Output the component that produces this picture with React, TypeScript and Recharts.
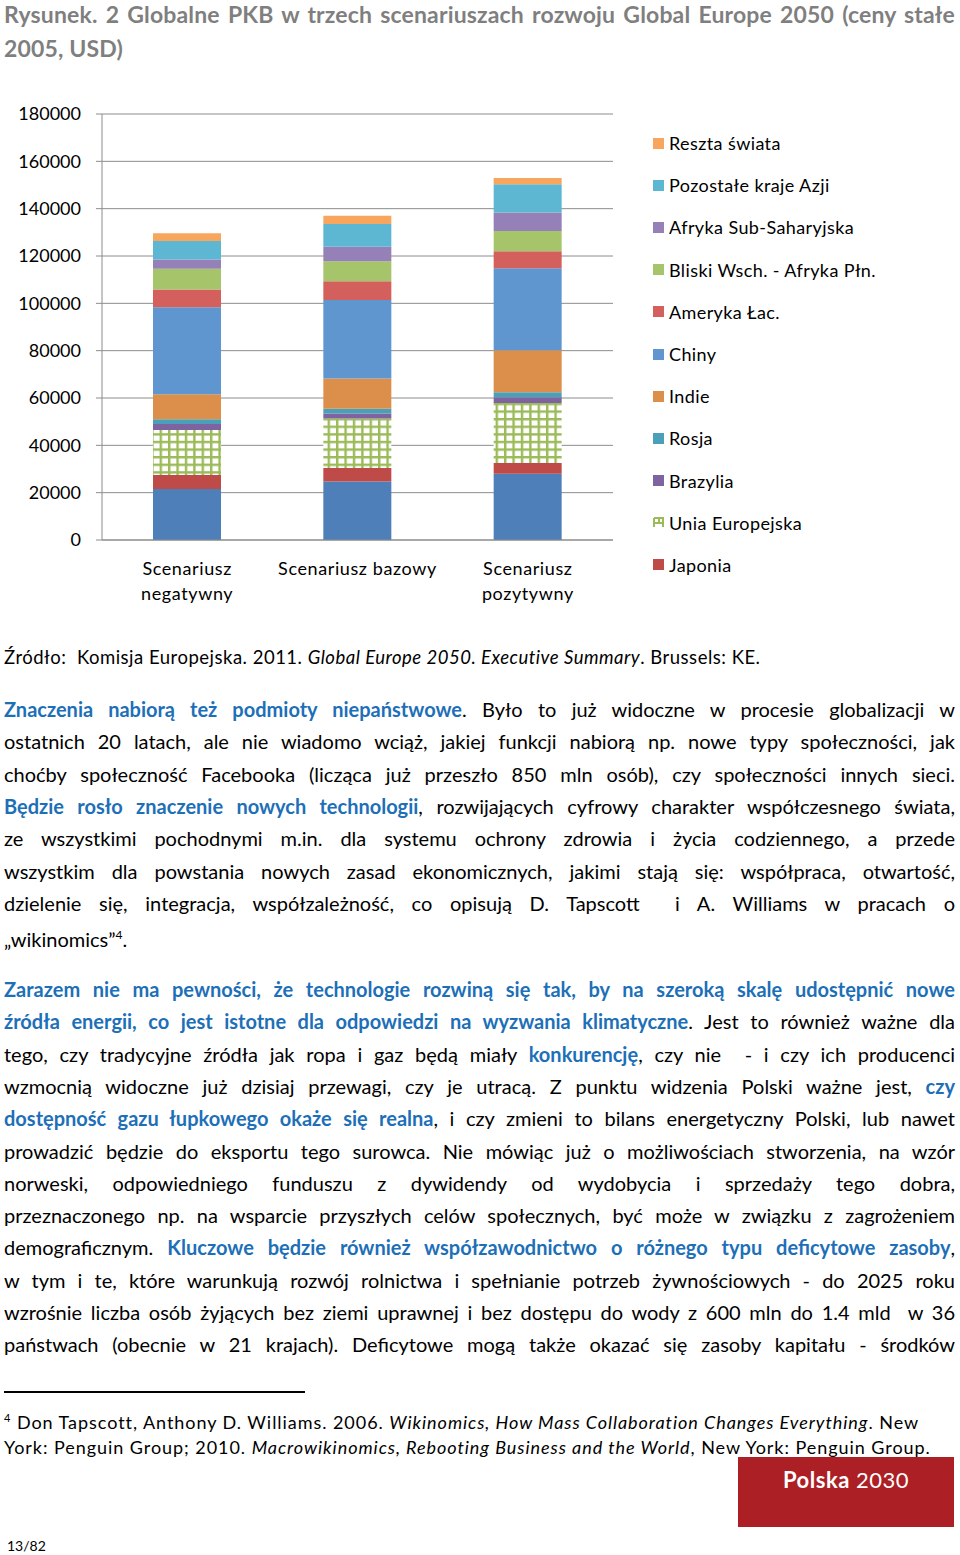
import React from 'react';
import { BarChart, Bar, XAxis, YAxis, CartesianGrid } from 'recharts';

const FONT = 'Lato, "Open Sans", sans-serif';
const BLUE_TXT = '#1d6fb8';
const AXIS_GRAY = '#8c8c8c';

// scenario categories
const categories = ['Scenariusz\nnegatywny', 'Scenariusz bazowy', 'Scenariusz\npozytywny'];

// GDP by region, bottom of the stack first (negatywny, bazowy, pozytywny)
const usa = [21500, 24700, 28000];
const japonia = [6000, 5700, 4500];
const uniaEuropejska = [19000, 20900, 25400];
const brazylia = [2500, 2100, 2400];
const rosja = [2000, 2100, 2100];
const indie = [10600, 12700, 17800];
const chiny = [36700, 33200, 34600];
const amerykaLac = [7500, 7900, 7200];
const bliskiWschod = [8800, 8500, 8600];
const afrykaSub = [3900, 6100, 7800];
const pozostaleAzja = [7800, 9600, 11900];
const resztaSwiata = [3300, 3500, 2700];

const yTicks = [0, 20000, 40000, 60000, 80000, 100000, 120000, 140000, 160000, 180000];
const bandEdges = [0, 1, 2, 3];

const titleLines = ['Rysunek. 2 Globalne PKB w trzech scenariuszach rozwoju Global Europe 2050 (ceny stałe', '2005, USD)'];

const series = [
  { key: 'usa', name: 'USA', values: usa, color: '#4f7fb8', legend: false },
  { key: 'japonia', name: 'Japonia', values: japonia, color: '#be4b48', legend: true },
  { key: 'ue', name: 'Unia Europejska', values: uniaEuropejska, color: 'url(#euHatch)', legend: true },
  { key: 'brazylia', name: 'Brazylia', values: brazylia, color: '#7e63a0', legend: true },
  { key: 'rosja', name: 'Rosja', values: rosja, color: '#4aa0b8', legend: true },
  { key: 'indie', name: 'Indie', values: indie, color: '#db8f4b', legend: true },
  { key: 'chiny', name: 'Chiny', values: chiny, color: '#5f96cf', legend: true },
  { key: 'amLac', name: 'Ameryka Łac.', values: amerykaLac, color: '#d3605c', legend: true },
  { key: 'bw', name: 'Bliski Wsch. - Afryka Płn.', values: bliskiWschod, color: '#a6c46a', legend: true },
  { key: 'afryka', name: 'Afryka Sub-Saharyjska', values: afrykaSub, color: '#9680b8', legend: true },
  { key: 'azja', name: 'Pozostałe kraje Azji', values: pozostaleAzja, color: '#5db7d3', legend: true },
  { key: 'reszta', name: 'Reszta świata', values: resztaSwiata, color: '#f8a55e', legend: true },
];

const chartData = categories.map((cat, i) => {
  const row: Record<string, any> = { name: cat };
  series.forEach((s) => {
    row[s.key] = s.values[i];
  });
  return row;
});

type Seg = { t: string; b?: boolean; i?: boolean; sup?: boolean };

const para1: Seg[][] = [
  [{ t: 'Znaczenia nabiorą też podmioty niepaństwowe', b: true }, { t: '. Było to już widoczne w procesie globalizacji w' }],
  [{ t: 'ostatnich 20 latach, ale nie wiadomo wciąż, jakiej funkcji nabiorą np. nowe typy społeczności, jak' }],
  [{ t: 'choćby społeczność Facebooka (licząca już przeszło 850 mln osób), czy społeczności innych sieci.' }],
  [{ t: 'Będzie rosło znaczenie nowych technologii', b: true }, { t: ', rozwijających cyfrowy charakter współczesnego świata,' }],
  [{ t: 'ze wszystkimi pochodnymi m.in. dla systemu ochrony zdrowia i życia codziennego, a przede' }],
  [{ t: 'wszystkim dla powstania nowych zasad ekonomicznych, jakimi stają się: współpraca, otwartość,' }],
  [{ t: 'dzielenie się, integracja, współzależność, co opisują D. Tapscott\u00a0 i A. Williams w pracach o' }],
  [{ t: '„wikinomics”' }, { t: '4', sup: true }, { t: '.' }],
];

const para2: Seg[][] = [
  [{ t: 'Zarazem nie ma pewności, że technologie rozwiną się tak, by na szeroką skalę udostępnić nowe', b: true }],
  [{ t: 'źródła energii, co jest istotne dla odpowiedzi na wyzwania klimatyczne', b: true }, { t: '. Jest to również ważne dla' }],
  [{ t: 'tego, czy tradycyjne źródła jak ropa i gaz będą miały ' }, { t: 'konkurencję', b: true }, { t: ', czy nie\u00a0 - i czy ich producenci' }],
  [{ t: 'wzmocnią widoczne już dzisiaj przewagi, czy je utracą. Z punktu widzenia Polski ważne jest, ' }, { t: 'czy', b: true }],
  [{ t: 'dostępność gazu łupkowego okaże się realna', b: true }, { t: ', i czy zmieni to bilans energetyczny Polski, lub nawet' }],
  [{ t: 'prowadzić będzie do eksportu tego surowca. Nie mówiąc już o możliwościach stworzenia, na wzór' }],
  [{ t: 'norweski, odpowiedniego funduszu z dywidendy od wydobycia i sprzedaży tego dobra,' }],
  [{ t: 'przeznaczonego np. na wsparcie przyszłych celów społecznych, być może w związku z zagrożeniem' }],
  [{ t: 'demograficznym. ' }, { t: 'Kluczowe będzie również współzawodnictwo o różnego typu deficytowe zasoby', b: true }, { t: ',' }],
  [{ t: 'w tym i te, które warunkują rozwój rolnictwa i spełnianie potrzeb żywnościowych - do 2025 roku' }],
  [{ t: 'wzrośnie liczba osób żyjących bez ziemi uprawnej i bez dostępu do wody z 600 mln do 1.4 mld\u00a0 w 36' }],
  [{ t: 'państwach (obecnie w 21 krajach). Deficytowe mogą także okazać się zasoby kapitału - środków' }],
];

const renderSegs = (segs: Seg[]) =>
  segs.map((s, k) => {
    if (s.sup) {
      return (
        <sup key={k} style={{ fontSize: '0.6em' }}>
          {s.t}
        </sup>
      );
    }
    return (
      <span
        key={k}
        style={{
          color: s.b ? BLUE_TXT : undefined,
          fontWeight: s.b ? 700 : 400,
          fontStyle: s.i ? 'italic' : 'normal',
        }}
      >
        {s.t}
      </span>
    );
  });

const Line = ({ segs, y, justify }: { segs: Seg[]; y: number; justify: boolean }) => (
  <div
    style={{
      position: 'absolute',
      left: 4,
      width: 951,
      top: y - 16,
      height: 32,
      lineHeight: '32px',
      fontSize: 20,
      whiteSpace: 'nowrap',
      textAlign: justify ? 'justify' : 'left',
      textAlignLast: justify ? 'justify' : 'left',
      color: '#000',
    }}
  >
    {renderSegs(segs)}
  </div>
);

const CategoryTick = ({ x, y, payload }: any) => {
  const lines = String(payload.value).split('\n');
  return (
    <text x={x} y={y} textAnchor="middle" fontSize={18} fill="#000" fontFamily={FONT} letterSpacing={0.6}>
      {lines.map((l, i) => (
        <tspan key={i} x={x} dy={i === 0 ? 27 : 25}>
          {l}
        </tspan>
      ))}
    </text>
  );
};

const LegendBox = () => {
  const items = series.filter((s) => s.legend).slice().reverse();
  return (
    <div style={{ position: 'absolute', left: 653, top: 122, letterSpacing: 0.4 }}>
      {items.map((s) => (
        <div key={s.key} style={{ height: 42.2, display: 'flex', alignItems: 'center', fontSize: 18 }}>
          {s.key === 'ue' ? (
            <svg width={11} height={11} style={{ marginRight: 5 }}>
              <rect x={0} y={0} width={11} height={11} fill="#fff" />
              <path d="M1 1 H10 V10 M1 1 V10 M1 6 H10 M6 1 V6" stroke="#9bbb59" strokeWidth={2} fill="none" />
            </svg>
          ) : (
            <div style={{ width: 11, height: 11, background: s.color, marginRight: 5 }} />
          )}
          <span>{s.name}</span>
        </div>
      ))}
    </div>
  );
};

export default function App() {
  return (
    <div
      style={{
        position: 'absolute',
        left: 0,
        top: 0,
        width: 960,
        height: 1555,
        background: '#fff',
        fontFamily: FONT,
        color: '#000',
        overflow: 'hidden',
      }}
    >
      {/* title */}
      {titleLines.map((t, i) => (
        <div
          key={i}
          style={{
            position: 'absolute',
            left: 4,
            top: i * 34,
            width: 951,
            fontSize: 23,
            fontWeight: 700,
            color: '#7f7f7f',
            lineHeight: '28px',
            letterSpacing: 0.15,
            whiteSpace: 'nowrap',
            textAlign: i === 0 ? 'justify' : 'left',
            textAlignLast: i === 0 ? 'justify' : 'left',
          }}
        >
          {t}
        </div>
      ))}

      <div style={{ position: 'absolute', left: 0, top: 0 }}>
        <BarChart width={960} height={620} data={chartData} margin={{ top: 114, right: 347, bottom: 20, left: 0 }}>
          <defs>
            <pattern id="euHatch" patternUnits="userSpaceOnUse" width={8.4} height={7.6}>
              <rect x={0} y={0} width={8.4} height={7.6} fill="#ffffff" />
              <rect x={0} y={0} width={2.4} height={7.6} fill="#9bbb59" />
              <rect x={0} y={0} width={8.4} height={2.4} fill="#9bbb59" />
            </pattern>
          </defs>
          <CartesianGrid vertical={false} stroke={AXIS_GRAY} />
          <XAxis
            xAxisId="edges"
            type="number"
            domain={[0, categories.length]}
            ticks={bandEdges}
            tick={false}
            tickLine={{ stroke: AXIS_GRAY }}
            tickSize={6}
            axisLine={false}
            height={0}
            interval={0}
          />
          <XAxis
            dataKey="name"
            height={60}
            axisLine={{ stroke: AXIS_GRAY }}
            tickLine={false}
            tickMargin={2}
            tick={<CategoryTick />}
            interval={0}
          />
          <YAxis
            width={102}
            domain={[0, 180000]}
            ticks={yTicks}
            axisLine={{ stroke: AXIS_GRAY }}
            tickLine={{ stroke: AXIS_GRAY }}
            tickSize={6}
            tickMargin={15}
            tick={{ fontSize: 18, fill: '#000', fontFamily: FONT }}
            interval={0}
          />
          {series.map((s) => (
            <Bar
              key={s.key}
              dataKey={s.key}
              name={s.name}
              stackId="a"
              fill={s.color}
              barSize={68}
              isAnimationActive={false}
            />
          ))}
        </BarChart>
      </div>

      <LegendBox />

      {/* source */}
      <div
        style={{
          position: 'absolute',
          left: 4,
          top: 645,
          fontSize: 18.5,
          letterSpacing: 0.5,
          lineHeight: '24px',
          whiteSpace: 'nowrap',
        }}
      >
        Źródło:&nbsp; Komisja Europejska. 2011. <i>Global Europe 2050. Executive Summary</i>. Brussels: KE.
      </div>

      {para1.map((segs, i) => (
        <Line key={'a' + i} segs={segs} y={709 + i * 32.3} justify={i < para1.length - 1} />
      ))}

      {para2.map((segs, i) => (
        <Line key={'b' + i} segs={segs} y={989 + i * 32.3} justify={true} />
      ))}

      {/* footnote */}
      <div style={{ position: 'absolute', left: 4, top: 1391, width: 301, height: 1.5, background: '#000' }} />
      <div
        style={{
          position: 'absolute',
          left: 4,
          top: 1405,
          fontSize: 18,
          letterSpacing: 0.95,
          lineHeight: '25px',
          whiteSpace: 'nowrap',
        }}
      >
        <sup style={{ fontSize: 11 }}>4</sup> Don Tapscott, Anthony D. Williams. 2006.{' '}
        <i>Wikinomics, How Mass Collaboration Changes Everything</i>. New
        <br />
        York: Penguin Group; 2010. <i>Macrowikinomics, Rebooting Business and the World</i>, New York: Penguin Group.
      </div>

      {/* logo box */}
      <div
        style={{
          position: 'absolute',
          left: 738,
          top: 1457,
          width: 216,
          height: 70,
          background: '#ab1f25',
          color: '#fff',
          fontSize: 22,
          textAlign: 'center',
          lineHeight: '46px',
          letterSpacing: 0.5,
        }}
      >
        <b>Polska</b> 2030
      </div>

      <div style={{ position: 'absolute', left: 7, top: 1536, fontSize: 14, lineHeight: '20px' }}>13/82</div>
    </div>
  );
}
